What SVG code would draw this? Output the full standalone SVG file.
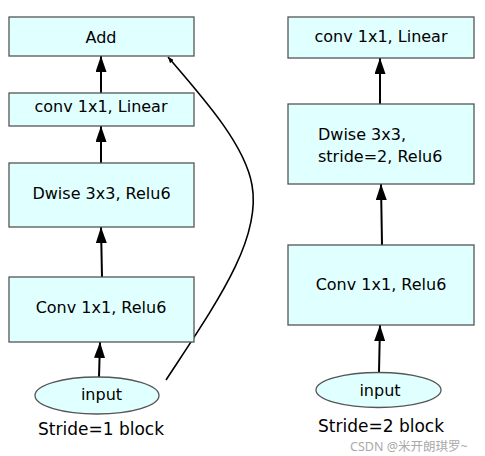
<svg xmlns="http://www.w3.org/2000/svg" width="485" height="456" viewBox="0 0 485 456">
<style>
.box{fill:#e0ffff;stroke:#555;stroke-width:1.3}
.t{font-family:"DejaVu Sans",sans-serif;font-size:16px;fill:#000}
.c{text-anchor:middle}
.lbl{font-family:"DejaVu Sans",sans-serif;font-size:17px;fill:#000;text-anchor:middle}
.e{stroke:#000;stroke-width:2;fill:none;marker-end:url(#ah)}
.wm{font-family:"Noto Sans","Noto Sans CJK SC",sans-serif;font-size:12.5px;fill:#aaa}
</style>
<defs>
<marker id="ah" markerUnits="userSpaceOnUse" markerWidth="16" markerHeight="11" refX="16" refY="5.5" orient="auto" viewBox="0 0 16 11">
<path d="M0,0 L16,5.5 L0,11 Z" fill="#000"/>
</marker>
<marker id="sh" markerUnits="userSpaceOnUse" markerWidth="6" markerHeight="5" refX="6" refY="2.5" orient="auto" viewBox="0 0 6 5">
<path d="M0,0 L6,2.5 L0,5 Z" fill="#000"/>
</marker>
</defs>
<rect width="485" height="456" fill="#fff"/>
<g id="connectors">
<line class="e" x1="99" y1="377" x2="100" y2="342"/>
<line class="e" x1="102" y1="277" x2="101" y2="227"/>
<line class="e" x1="101" y1="163" x2="101" y2="126"/>
<line class="e" x1="101" y1="93" x2="101" y2="56"/>
<path d="M166,380 C215,305 262,240 252,185 C245,145 205,100 168,57" fill="none" stroke="#000" stroke-width="1.6" marker-end="url(#sh)"/>
<line class="e" x1="379" y1="372" x2="380" y2="325"/>
<line class="e" x1="382" y1="245" x2="381" y2="184"/>
<line class="e" x1="380" y1="104" x2="380" y2="58"/>
</g>
<g id="add"><rect class="box" x="9" y="17" width="185" height="39"/><text class="t c" x="101" y="43">Add</text></g>
<g id="left-linear"><rect class="box" x="9" y="93" width="185" height="33"/><text class="t c" x="101" y="112">conv 1x1, Linear</text></g>
<g id="left-dwise"><rect class="box" x="9" y="163" width="185" height="64"/><text class="t c" x="101.5" y="199">Dwise 3x3, Relu6</text></g>
<g id="left-conv"><rect class="box" x="9" y="277" width="185" height="65"/><text class="t c" x="101" y="313">Conv 1x1, Relu6</text></g>
<g id="left-input"><ellipse class="box" cx="97" cy="395.5" rx="62" ry="18.5"/><text class="t c" x="101.5" y="400">input</text></g>
<text class="lbl" x="101" y="435">Stride=1 block</text>
<g id="right-linear"><rect class="box" x="288" y="17" width="186" height="41"/><text class="t c" x="381" y="42">conv 1x1, Linear</text></g>
<g id="right-dwise"><rect class="box" x="288" y="104" width="186" height="80"/><text class="t" x="318" y="140">Dwise 3x3,</text><text class="t" x="318" y="162">stride=2, Relu6</text></g>
<g id="right-conv"><rect class="box" x="288" y="245" width="186" height="80"/><text class="t c" x="381" y="290">Conv 1x1, Relu6</text></g>
<g id="right-input"><ellipse class="box" cx="378.5" cy="390" rx="62.5" ry="17.5"/><text class="t c" x="380" y="396">input</text></g>
<text class="lbl" x="381" y="432">Stride=2 block</text>
<text class="wm" x="350" y="451">CSDN @米开朗琪罗~</text>
</svg>
